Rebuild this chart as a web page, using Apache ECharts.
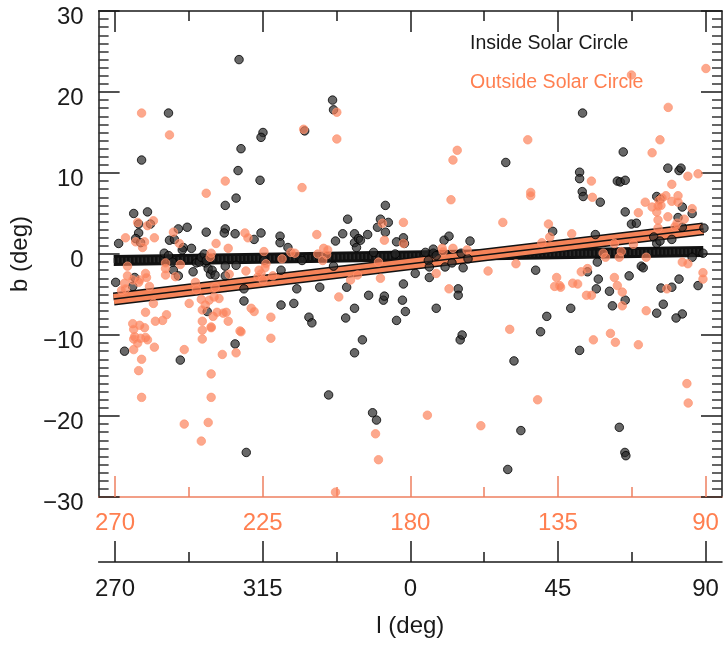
<!DOCTYPE html>
<html><head><meta charset="utf-8">
<script src="https://cdn.jsdelivr.net/npm/echarts@6/dist/echarts.min.js"></script>
<style>html,body{margin:0;padding:0;background:#fff}#c{width:723px;height:648px}</style>
</head><body><div id="c"></div>
<script>
// Positions along the plotted longitude scale: -90 (l=270) ... 0 (l=0) ... 90 (l=90)
const insideSolarCircle = [
[-88.9,1.3],[-84.3,5.0],[-80.1,5.2],[-82.8,3.7],[-79.2,3.7],[-82.8,2.6],[-73.4,1.7],[-70.7,3.1],[-68.0,3.3],[-62.2,2.7],[-71.9,1.8],[-69.2,0.8],[-66.7,0.7],[-81.9,11.6],[-73.7,17.4],[-52.2,24.0],[-52.5,10.3],[-53.1,6.9],[-56.4,6.0],[-56.4,3.1],[-56.7,2.6],[-53.4,2.5],[-51.6,13.0],[-83.7,1.9],[-82.2,1.4],
[-89.8,-3.5],[-87.1,-12.0],[-84.0,-2.9],[-84.6,-4.0],[-72.2,-2.0],[-70.7,-2.7],[-70.1,-13.1],[-66.2,-2.2],[-62.5,-1.1],[-61.6,-1.8],[-60.9,-2.5],[-61.9,-7.1],[-53.4,-11.1],[-56.4,-1.5],[-53.1,-1.4],[-75.0,0.1],[-73.7,-0.2],[-72.5,-1.0],[-69.5,0.5],[-65.2,-1.1],[-64.3,-1.0],[-63.7,-0.4],[-62.8,0.0],[-62.2,-0.8],[-60.4,-2.0],[-59.5,-2.6],[-56.4,-2.7],[-50.7,-4.3],[-50.7,-5.8],[-47.6,1.8],[-45.5,2.6],[-44.6,-0.8],[-39.7,2.2],[-39.7,1.4],[-39.4,-2.0],[-37.3,0.8],[-39.4,-6.3],[-35.5,-6.1],[-34.6,-4.3],[-33.0,-0.8],[-30.9,-7.8],[-30.0,-8.5],[-27.6,-4.1],[-23.4,-1.5],[-22.8,1.6],[-20.6,2.5],[-19.1,4.3],[-19.4,-4.1],[-17.0,2.5],[-17.0,1.4],[-15.8,1.9],[-15.2,1.7],[-16.4,0.8],[-17.0,-6.7],[-19.7,-7.9],[-14.6,-10.6],[-12.7,-5.1],[-13.0,2.4],[-10.0,3.3],[-9.1,4.3],[-7.6,6.0],[-7.6,2.7],[-6.7,3.9],[-11.2,0.2],[-8.2,-5.7],[-7.9,-5.2],[-4.2,1.5],[-4.6,0.0],[-2.1,2.0],[-2.1,-3.7],[-2.4,-5.7],[-1.5,-7.1],[-4.2,-8.2],
[-45.8,9.1],[-44.9,15.0],[-45.5,14.4],[-32.2,15.2],[-23.7,19.0],[-23.4,17.8],
[-1.8,1.3],[4.6,0.2],[7.0,0.6],[7.0,0.1],[7.9,-0.2],[5.5,-0.8],[5.8,-1.6],[5.8,-2.9],[1.5,-2.4],[10.3,1.7],[11.8,2.2],[10.6,-1.6],[12.7,-1.1],[16.1,-1.7],[15.5,0.1],[17.6,-0.6],[18.2,1.6],[14.6,-4.3],[14.6,-5.1],[7.9,-6.7],[38.2,-2.0],[43.4,2.8],[41.6,-7.7],[48.9,-6.7],[52.4,7.7],[52.7,7.1],[57.9,6.4],[56.4,2.4],[57.0,-1.0],[54.0,-2.2],[57.3,-3.1],[56.7,-4.3],[60.7,-4.6],[61.6,-6.4],[65.5,5.2],[67.4,3.7],[68.9,3.8],[66.7,-2.7],[65.5,-5.7],[70.4,-1.5],[71.0,-1.7],[75.1,7.1],[76.1,6.8],[82.9,5.8],[81.6,4.5],[85.9,5.0],[82.9,3.3],[74.2,2.1],[75.1,1.3],[76.1,1.6],[79.7,1.8],[85.9,-0.4],[81.9,-3.1],[79.7,-4.1],[76.4,-4.2],[87.7,-3.9],[77.1,-6.2],[75.1,-7.3],[82.9,-7.4],[81.0,-7.9],[63.1,9.0],[64.0,8.9],[65.5,9.1],[89.5,3.2],[89.2,0.1],
[29.1,11.3],[52.5,17.4],[51.6,10.1],[51.6,9.3],[64.9,12.6],[81.9,10.3],[82.5,10.6],[78.5,10.6],
[-50.0,-24.5],[-24.9,-17.4],[-11.5,-19.6],[-10.3,-20.5],[-17.0,-12.2],[29.7,-26.6],[33.7,-21.8],[31.6,-13.2],[63.7,-21.4],[65.4,-24.5],[65.7,-24.9],[51.6,-11.9],[15.2,-10.6],[15.8,-10.0],[39.7,-9.6]
];
const outsideSolarCircle = [
[-81.9,17.4],[-73.4,14.7],[-62.2,7.5],[-56.4,9.0],[-83.1,3.9],[-80.1,3.5],[-78.3,4.1],[-86.8,2.0],[-83.7,1.5],[-81.0,1.5],[-81.6,0.8],[-78.0,2.0],[-72.2,2.7],[-70.4,1.3],[-59.2,1.3],[-55.5,0.7],
[-86.2,-1.5],[-86.2,-2.7],[-84.6,-3.2],[-87.1,-3.6],[-86.8,-4.3],[-88.0,-4.5],[-82.8,-3.5],[-82.5,-3.2],[-80.7,-2.4],[-80.4,-2.9],[-79.5,-4.0],[-74.6,-1.8],[-74.6,-2.6],[-74.6,-1.1],[-70.1,-1.3],[-78.3,-6.1],[-80.7,-7.2],[-84.6,-8.6],[-82.5,-8.8],[-81.0,-9.1],[-84.3,-9.3],[-84.0,-10.2],[-84.3,-10.5],[-82.2,-10.4],[-80.7,-10.3],[-80.1,-10.6],[-83.1,-11.0],[-84.3,-11.8],[-81.9,-13.0],[-82.8,-14.4],[-81.9,-17.7],[-78.0,-11.5],[-77.7,-8.3],[-75.5,-8.2],[-74.3,-7.5],[-67.4,-6.1],[-68.9,-11.8],[-68.9,-21.0],[-63.4,-10.5],[-63.4,-8.3],[-63.7,-23.1],[-61.6,-20.8],[-60.7,-14.8],[-60.7,-17.7],[-60.7,-9.0],[-62.5,-6.3],[-60.1,-7.7],[-59.8,-5.3],[-58.3,-5.5],[-58.9,-7.2],[-56.1,-7.2],[-55.5,-8.3],[-57.3,-12.4],[-53.1,-12.2],[-51.9,-9.5],[-55.2,-2.5],[-60.7,0.1],[-61.0,-0.4],
[-71.6,-2.8],[-65.5,-3.5],[-65.2,-4.4],[-63.7,-5.6],[-63.4,-6.9],[-61.3,-5.7],[-59.5,-4.1],[-57.0,-7.3],[-63.4,-9.4],[-60.7,-9.1],[-50.4,2.6],[-49.5,2.0],[-50.1,-2.1],[-46.1,-2.0],[-45.5,-2.4],[-44.6,0.3],[-44.3,-1.7],[-44.0,-1.2],[-46.4,-2.8],[-44.9,-3.2],[-41.9,-2.7],[-39.1,-0.6],[-36.4,0.2],[-35.2,0.1],[-48.5,-6.7],[-47.6,-7.1],[-42.5,-7.8],[-42.5,-10.4],[-51.6,-9.6],[-28.5,2.4],[-26.4,0.7],[-25.2,0.5],[-25.5,-0.1],[-28.2,0.0],[-26.7,-0.8],[-21.8,-5.3],[-18.2,-3.2],[-16.1,-2.6],[-9.1,-3.0],[-8.5,3.8],[-7.9,1.7],[-9.7,-1.0],[-2.1,3.9],[-2.1,1.3],
[12.4,6.7],[9.7,0.7],[10.0,0.3],[13.0,0.7],[17.3,0.5],[7.9,-2.4],[11.8,-4.3],[23.7,-2.1],[28.2,3.9],[32.2,-1.2],[36.7,7.6],[36.7,7.2],[42.1,3.7],[42.5,2.1],[40.1,1.4],[49.2,2.5],[44.6,-2.9],[44.0,-4.0],[45.5,-3.9],[45.8,-4.1],[49.5,-3.6],[51.0,-3.7],[53.7,-5.1],[55.2,-5.1],[52.1,-2.2],[54.0,-1.8],[55.5,7.0],[58.8,0.1],[59.5,-0.4],[62.2,1.3],[62.2,-2.9],[63.1,-3.9],[64.6,-4.7],[64.6,-6.4],[63.7,-0.4],[64.3,0.3],[68.0,1.2],[69.5,5.1],[71.6,6.4],[71.9,-0.4],[71.9,-7.0],[73.7,5.8],[75.1,5.2],[75.5,5.9],[75.8,6.6],[76.7,6.9],[77.9,7.2],[76.4,6.0],[75.5,4.2],[75.5,3.2],[78.5,4.6],[79.7,8.6],[81.6,7.2],[81.6,6.4],[79.7,6.5],[81.3,3.8],[80.7,3.4],[83.5,4.3],[85.9,5.6],[82.9,-1.0],[84.6,-1.2],[78.2,-4.3],[89.2,-2.3],[89.2,-3.1],
[-22.4,17.5],[-22.4,14.2],[-32.5,15.4],[-33.0,8.2],[35.8,14.1],[14.3,12.8],[13.0,11.6],[67.4,22.1],[90.1,22.9],[78.6,18.1],[76.1,14.1],[73.7,12.5],[55.2,9.0],[87.7,9.9],[84.6,9.6],
[-22.8,-29.4],[-10.6,-22.2],[-9.7,-25.4],[5.2,-19.9],[21.5,-21.2],[38.8,-18.0],[30.3,-9.3],[55.8,-10.6],[61.0,-9.8],[62.5,-10.9],[69.5,-11.2],[84.3,-16.0],[84.7,-18.4]
];
const insideFit = [[-90.4,-0.79],[89.3,0.32]];
const outsideFit = [[-90.4,-5.55],[89.3,3.1]];
const majorTicks = [-90,-45,0,45,90];
const minorTicks = [-67.5,-22.5,22.5,67.5];
const xRange = [-95,95];
const yRange = [-30,30];
const legendNames = ['Inside Solar Circle','Outside Solar Circle'];

const FONT = "'Liberation Sans', Arial, Helvetica, sans-serif";
const BLACK = '#1a1a1a';
const ORANGE = '#ff7f50';
const ORANGE_AXIS = '#ee8060';
const outerLabel = v => String(180 - v);
const innerLabel = v => String(v < 0 ? v + 360 : v);
const minus = v => String(v).replace('-', '\u2212');

function xAx(position, ticks, len, color, extra) {
  return Object.assign({
    type: 'value', position, min: xRange[0], max: xRange[1],
    splitLine: {show: false},
    axisLine: {show: false, onZero: false},
    axisTick: {show: true, inside: true, length: len, customValues: ticks, lineStyle: {color, width: 1.5}},
    axisLabel: {show: false}
  }, extra || {});
}

const xAxis = [
  xAx('bottom', majorTicks, 21, ORANGE_AXIS, {
    axisLine: {show: true, onZero: false, lineStyle: {color: ORANGE_AXIS, width: 1.5}},
    axisLabel: {show: true, customValues: majorTicks, formatter: outerLabel, color: ORANGE, fontSize: 24, fontFamily: FONT, margin: 14}
  }),
  xAx('bottom', minorTicks, 10, ORANGE_AXIS),
  xAx('top', majorTicks, 21, BLACK, {axisLine: {show: true, onZero: false, lineStyle: {color: BLACK, width: 1.5}}}),
  xAx('top', minorTicks, 10, BLACK),
  xAx('bottom', majorTicks, 21, BLACK, {
    offset: 65,
    axisLine: {show: true, onZero: false, lineStyle: {color: BLACK, width: 1.5}},
    axisLabel: {show: true, customValues: majorTicks, formatter: innerLabel, color: BLACK, fontSize: 24, fontFamily: FONT, margin: 15},
    name: 'l (deg)', nameLocation: 'middle', nameGap: 52,
    nameTextStyle: {color: BLACK, fontSize: 24, fontFamily: FONT}
  }),
  xAx('bottom', minorTicks, 10, BLACK, {offset: 65})
];

function yAx(position, labels) {
  return {
    type: 'value', position, min: yRange[0], max: yRange[1], interval: 10,
    splitLine: {show: false},
    axisLine: {show: true, onZero: false, lineStyle: {color: BLACK, width: 1.5}},
    axisTick: {show: true, inside: true, length: 21, lineStyle: {color: BLACK, width: 1.5}},
    minorTick: {show: true, splitNumber: 10, length: 10, lineStyle: {color: '#333', width: 1.5}},
    axisLabel: labels ? {show: true, formatter: minus, color: BLACK, fontSize: 24, fontFamily: FONT, margin: 15, verticalAlign: 'top', lineHeight: 13} : {show: false},
    name: labels ? 'b (deg)' : '', nameLocation: 'middle', nameGap: 58,
    nameTextStyle: {color: BLACK, fontSize: 24, fontFamily: FONT}
  };
}

const chart = echarts.init(document.getElementById('c'), null, {renderer: 'canvas'});
chart.setOption({
  animation: false,
  backgroundColor: '#fff',
  grid: {left: 97, right: 1, top: 11, bottom: 151, containLabel: false},
  xAxis,
  yAxis: [yAx('left', true), yAx('right', false)],
  graphic: [
    {type: 'text', left: 470, top: 34, style: {text: legendNames[0], fill: BLACK, font: '19.5px ' + FONT}},
    {type: 'text', left: 470, top: 73, style: {text: legendNames[1], fill: ORANGE, font: '19.5px ' + FONT}}
  ],
  series: [
    {type: 'line', name: 'insideFitBand', data: insideFit, symbol: 'none', silent: true, z: 2,
      lineStyle: {color: '#111', width: 11, cap: 'butt'}},
    {type: 'line', name: 'insideFitHatch', data: insideFit, symbol: 'none', silent: true, z: 2,
      lineStyle: {color: '#383838', width: 5, type: [1, 3], cap: 'butt'}},
    {type: 'line', name: 'outsideFitEdge', data: outsideFit, symbol: 'none', silent: true, z: 2,
      lineStyle: {color: '#111', width: 13, cap: 'butt'}},
    {type: 'line', name: 'outsideFitBand', data: outsideFit, symbol: 'none', silent: true, z: 2,
      lineStyle: {color: '#f58358', width: 10, cap: 'butt'}},
    {type: 'line', name: 'outsideFitLine', data: outsideFit, symbol: 'none', silent: true, z: 2,
      lineStyle: {color: '#111', width: 1.5, cap: 'butt'}},
    {type: 'scatter', name: legendNames[0], data: insideSolarCircle, symbolSize: 8.5, z: 3,
      itemStyle: {color: 'rgba(40,40,40,0.88)', borderColor: '#000', borderWidth: 1}},
    {type: 'scatter', name: legendNames[1], data: outsideSolarCircle, symbolSize: 8.5, z: 4,
      itemStyle: {color: 'rgba(251,128,88,0.85)', borderColor: 'rgba(255,150,115,0.9)', borderWidth: 1}}
  ]
});
</script></body></html>
